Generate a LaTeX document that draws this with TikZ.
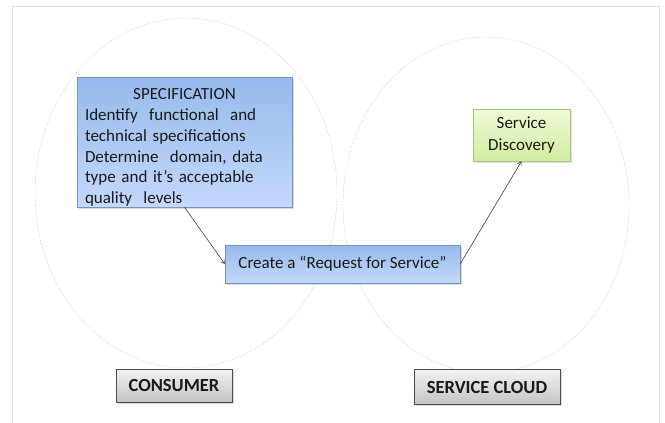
\documentclass[tikz,border=0pt]{standalone}
\usepackage{fontspec}
\setmainfont{Carlito}
\usetikzlibrary{arrows,positioning,calc,shadows}

\definecolor{specTop}{RGB}{150,186,236}
\definecolor{specBot}{RGB}{196,216,250}
\definecolor{specLine}{RGB}{112,150,208}
\definecolor{discTop}{RGB}{240,250,214}
\definecolor{discBot}{RGB}{208,236,160}
\definecolor{discLine}{RGB}{168,200,120}
\definecolor{tagTop}{RGB}{242,242,242}
\definecolor{tagBot}{RGB}{196,196,196}
\definecolor{frameGray}{RGB}{226,226,226}
\definecolor{txt}{RGB}{26,26,26}

\begin{document}
\begin{tikzpicture}[x=1pt,y=-1pt,
		bluebox/.style={draw=specLine,top color=specTop,bottom color=specBot,text=txt,
			drop shadow={shadow xshift=1.5pt,shadow yshift=-1.5pt,opacity=.3}},
		greenbox/.style={draw=discLine,top color=discTop,bottom color=discBot,text=txt,
			drop shadow={shadow xshift=1.5pt,shadow yshift=-1.5pt,opacity=.25}},
		tagbox/.style={draw=black!70,top color=tagTop,bottom color=tagBot,text=txt,
			font=\fontsize{18.5}{22}\selectfont\bfseries,inner sep=0pt,
			drop shadow={shadow xshift=1.5pt,shadow yshift=-1.5pt,opacity=.3}},
		cloud/.style={draw=black!35,densely dotted,line width=.4pt},
		link/.style={->,>=angle 60,draw=black!75,line width=.6pt}]
		\useasboundingbox (0,0) rectangle (665,423);
		% frame
		\draw[frameGray,line width=.8pt] (12,423) -- (12,6) -- (659,6) -- (659,423);
		% the two regions
		\draw[cloud] (186,193) ellipse [x radius=151,y radius=175];
		\draw[cloud] (486,205) ellipse [x radius=143,y radius=168];
		% boxes
		\node[bluebox,minimum width=215,minimum height=130,inner xsep=8pt,inner ysep=0pt,
			align=left,text width=199pt,font=\fontsize{17}{20.8}\selectfont] (spec) at (184.5,142)
			{\rule{0pt}{22pt}\hfill SPECIFICATION\hfill\null\\Identify\ \ functional\ \ and\\technical specifications\\Determine\ \ domain, data\\type and it’s acceptable\\quality\ \ levels};
		\node[bluebox,minimum width=235,minimum height=38,inner sep=0pt,
			font=\fontsize{17}{20.8}\selectfont] (req) at (342.5,264) {Create a “Request for Service”};
		\node[greenbox,minimum width=97,minimum height=52,inner sep=0pt,align=center,
			font=\fontsize{17}{22}\selectfont] (disc) at (521.5,135) {Service\\Discovery};
		\node[tagbox,minimum width=116,minimum height=33] (cons) at (174,385.5) {CONSUMER};
		\node[tagbox,minimum width=146,minimum height=35] (scloud) at (487,387) {SERVICE CLOUD};
		% connectors
		\draw[link] (spec.south) -- (req.west);
		\draw[link] (req.east) -- (disc.south);
\end{tikzpicture}
\end{document}
